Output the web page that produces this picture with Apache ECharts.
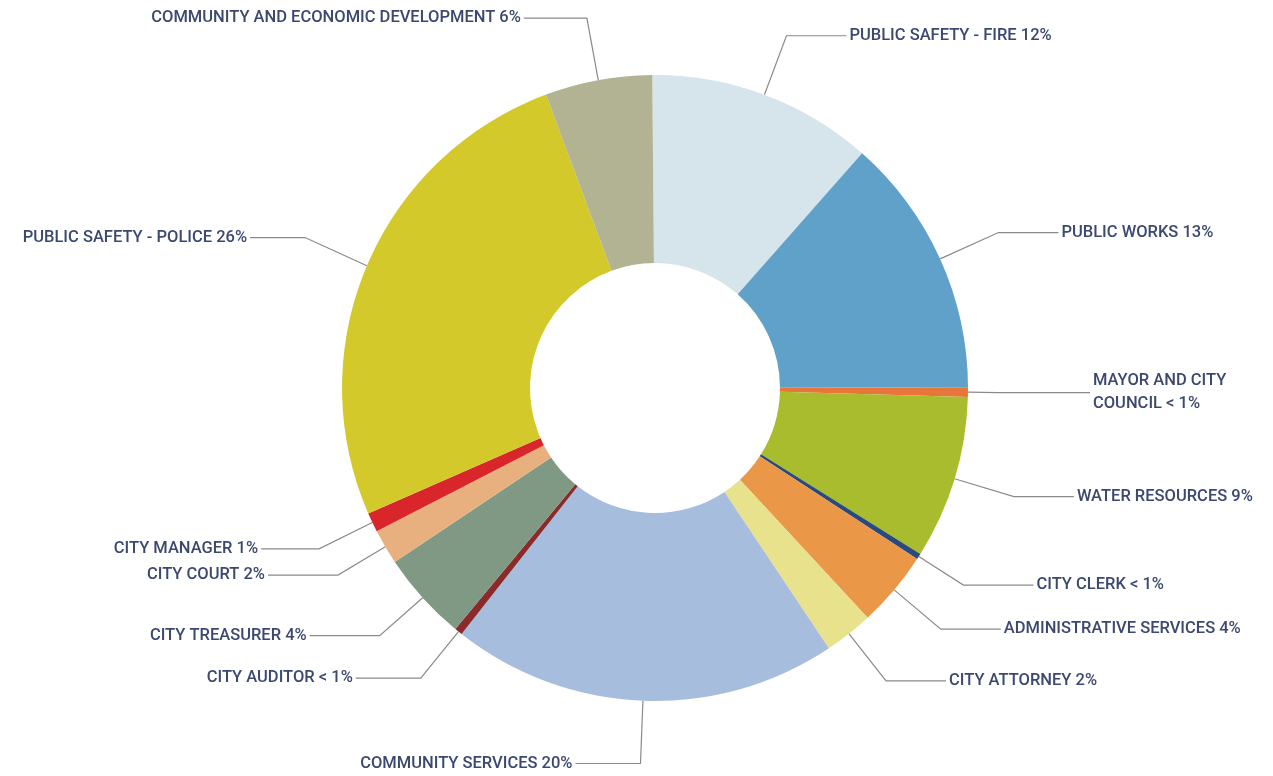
<!DOCTYPE html>
<html>
<head>
<meta charset="utf-8">
<script src="https://cdn.jsdelivr.net/npm/echarts@6/dist/echarts.min.js"></script>
<style>
html,body{margin:0;padding:0;background:#fff;}
#c{width:1273px;height:776px;}
</style>
</head>
<body>
<div id="c"></div>
<script>
const categories = [
  'PUBLIC SAFETY - FIRE', 'PUBLIC WORKS', 'MAYOR AND CITY COUNCIL', 'WATER RESOURCES',
  'CITY CLERK', 'ADMINISTRATIVE SERVICES', 'CITY ATTORNEY', 'COMMUNITY SERVICES',
  'CITY AUDITOR', 'CITY TREASURER', 'CITY COURT', 'CITY MANAGER',
  'PUBLIC SAFETY - POLICE', 'COMMUNITY AND ECONOMIC DEVELOPMENT'
];
const values = [11.6, 13.4, 0.5, 8.4, 0.3, 3.9, 2.5, 19.9, 0.4, 4.6, 1.8, 1.0, 25.8, 5.5];
const pctLabels = ['12%', '13%', '< 1%', '9%', '< 1%', '4%', '2%', '20%', '< 1%', '4%', '2%', '1%', '26%', '6%'];

const colors = ['#d6e4ec', '#5fa1c9', '#e8763a', '#a9bc2d', '#2b4a7c', '#eb9748', '#e9e28c', '#a7bddd',
                '#8a2a2a', '#7f9985', '#e9b07f', '#d8262b', '#d4c92b', '#b2b392'];
const lineLen = [63, 64, 30, 62, 53, 61, 60, 63, 60, 57, 56, 62, 72, 63];
const lineLen2 = [60, 60, 92, 60, 70, 60, 60, 65, 65, 70, 70, 58, 55, 63];

const chart = echarts.init(document.getElementById('c'));
const data = categories.map((n, i) => ({
  name: n,
  value: values[i],
  itemStyle: { color: colors[i] },
  labelLine: { length: lineLen[i], length2: lineLen2[i] },
  label: {
    formatter: i === 2 ? 'MAYOR AND CITY\nCOUNCIL ' + pctLabels[i] : n + ' ' + pctLabels[i]
  }
}));

chart.setOption({
  backgroundColor: '#ffffff',
  animation: false,
  series: [{
    type: 'pie',
    center: [655, 388],
    radius: [125, 313],
    startAngle: 90.5,
    clockwise: true,
    avoidLabelOverlap: true,
    itemStyle: { borderWidth: 0 },
    label: {
      show: true,
      color: '#3c4870',
      fontFamily: 'Roboto, sans-serif',
      fontSize: 16.5,
      fontWeight: 500,
      lineHeight: 23,
      distanceToLabelLine: 3
    },
    labelLine: {
      show: true,
      lineStyle: { color: '#8a8a8a', width: 1.2 }
    },
    emphasis: { disabled: true },
    data: data
  }]
});
</script>
</body>
</html>
